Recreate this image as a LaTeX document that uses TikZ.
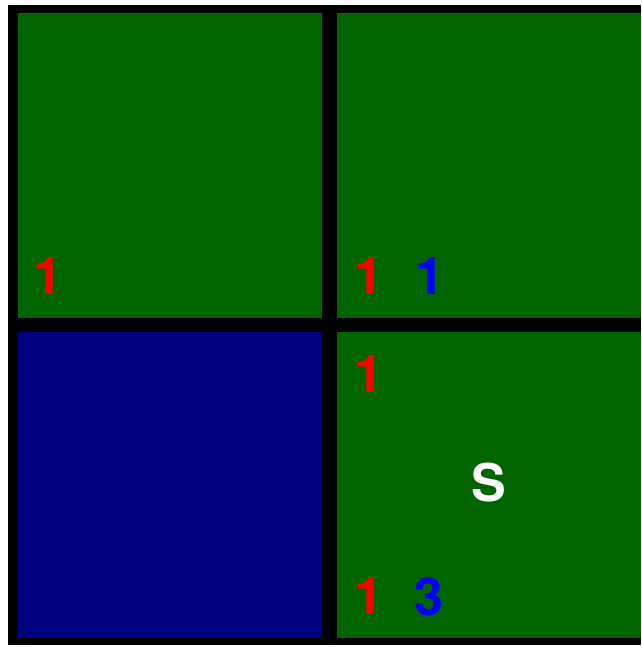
\documentclass[tikz,border=0pt]{standalone}
\usepackage{fontspec}
\setmainfont{TeX Gyre Heros}
\definecolor{cellgreen}{RGB}{0,100,0}
\definecolor{cellnavy}{RGB}{0,0,128}
\definecolor{lblred}{RGB}{255,0,0}
\definecolor{lblblue}{RGB}{0,0,255}
\tikzset{
  lbl/.style={inner sep=0pt, outer sep=0pt, font=\fontsize{52}{52}\selectfont\bfseries},
}
\begin{document}
\begin{tikzpicture}[x=1pt,y=-1pt]
\useasboundingbox (0,0) rectangle (641,648);
\fill[white] (0,0) rectangle (641,648);
\fill[black] (8,5) rectangle (641,645);
\fill[cellgreen] (18,13) rectangle (322,318);
\fill[cellgreen] (337,13) rectangle (641,318);
\fill[cellnavy] (18,332) rectangle (322,638);
\fill[cellgreen] (337,332) rectangle (641,638);
\node[lbl, text=lblred] (a) at (48,276) {1};
\node[lbl, text=lblred] (b) at (368.5,276) {1};
\node[lbl, text=lblblue] (c) at (429.5,276) {1};
\node[lbl, text=lblred] (d) at (368.5,374.5) {1};
\node[lbl, text=white] (s) at (488.5,483) {S};
\node[lbl, text=lblred] (e) at (368.5,596.5) {1};
\node[lbl, text=lblblue] (f) at (428.5,596.5) {3};
\end{tikzpicture}
\end{document}
